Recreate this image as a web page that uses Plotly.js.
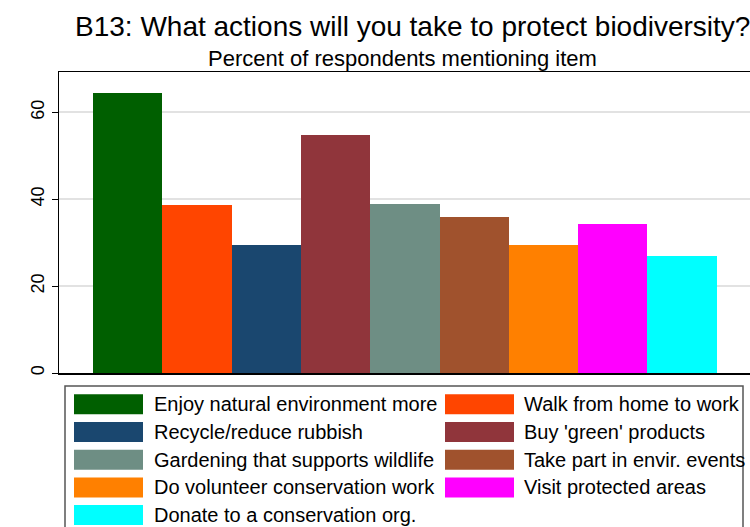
<!DOCTYPE html>
<html>
<head>
<meta charset="utf-8">
<script src="https://cdn.plot.ly/plotly-3.0.1.min.js"></script>
<style>html,body{margin:0;padding:0;background:#fff;}#chart{width:750px;height:527px;}</style>
</head>
<body>
<div id="chart"></div>
<script>
// ---- data ----
var categories = [
  "Enjoy natural environment more",
  "Walk from home to work",
  "Recycle/reduce rubbish",
  "Buy 'green' products",
  "Gardening that supports wildlife",
  "Take part in envir. events",
  "Do volunteer conservation work",
  "Visit protected areas",
  "Donate to a conservation org."
];
var values = [64.5, 38.6, 29.4, 54.7, 39.0, 36.0, 29.4, 34.4, 26.9];
var colors = ["#005f00", "#ff4500", "#1a476f", "#90353b", "#6e8e84", "#a0522d", "#ff8000", "#ff00ff", "#00ffff"];
var yTicks = [0, 20, 40, 60];
var titleText = "B13: What actions will you take to protect biodiversity?";
var subtitleText = "Percent of respondents mentioning item";

// ---- layout geometry (pixels) ----
var W = 750, H = 527;
var M = {l: 59, r: 0, t: 72, b: 154};
var plotW = W - M.l - M.r, plotH = H - M.t - M.b;
function px(x) { return (x - M.l) / plotW; }
function py(y) { return (H - M.b - y) / plotH; }

var traces = categories.map(function (c, i) {
  return {
    type: "bar",
    x: [c],
    y: [values[i]],
    name: c,
    marker: {color: colors[i], line: {width: 0}},
    hoverinfo: "name+y",
    showlegend: false
  };
});

var shapes = [];
var annotations = [];
var font = "Liberation Sans, Arial, sans-serif";

// titles
annotations.push({xref: "paper", yref: "paper", x: px(412), y: py(26), text: titleText,
  showarrow: false, xanchor: "center", yanchor: "middle", font: {family: font, size: 28, color: "#000"}});
annotations.push({xref: "paper", yref: "paper", x: px(402), y: py(58.5), text: subtitleText,
  showarrow: false, xanchor: "center", yanchor: "middle", font: {family: font, size: 22, color: "#000"}});

// legend box
shapes.push({type: "rect", xref: "paper", yref: "paper", x0: px(65), x1: px(743), y0: py(386), y1: py(545),
  line: {color: "#555", width: 1.5}, fillcolor: "rgba(0,0,0,0)", layer: "above"});

var colSw = [74, 445], colTx = [152, 522], swW = 69, swH = 20, row0 = 404.3, rowStep = 27.7;
categories.forEach(function (c, i) {
  var col = i % 2, row = Math.floor(i / 2);
  var cy = row0 + row * rowStep;
  shapes.push({type: "rect", xref: "paper", yref: "paper",
    x0: px(colSw[col]), x1: px(colSw[col] + swW), y0: py(cy - swH / 2), y1: py(cy + swH / 2),
    line: {width: 0}, fillcolor: colors[i], layer: "above"});
  annotations.push({xref: "paper", yref: "paper", x: px(colTx[col]), y: py(cy), text: c,
    showarrow: false, xanchor: "left", yanchor: "middle", font: {family: font, size: 20, color: "#000"}});
});

var layout = {
  width: W, height: H,
  margin: M,
  paper_bgcolor: "#fff", plot_bgcolor: "#fff",
  bargap: 0,
  showlegend: false,
  xaxis: {
    type: "category",
    range: [-0.99, 8.98],
    showticklabels: false, ticks: "",
    showgrid: false, zeroline: false,
    showline: true, linecolor: "#000", linewidth: 1.5, mirror: true
  },
  yaxis: {
    range: [0, 69.3],
    tickvals: yTicks,
    ticks: "outside", ticklen: 6, tickwidth: 1, tickcolor: "#000",
    tickangle: -90,
    tickfont: {family: font, size: 18, color: "#000"},
    showgrid: true, gridcolor: "#e2e2e2", gridwidth: 2,
    zeroline: false,
    showline: true, linecolor: "#000", linewidth: 1.5, mirror: true
  },
  shapes: shapes,
  annotations: annotations
};

Plotly.newPlot("chart", traces, layout, {displayModeBar: false, staticPlot: true});
</script>
</body>
</html>
